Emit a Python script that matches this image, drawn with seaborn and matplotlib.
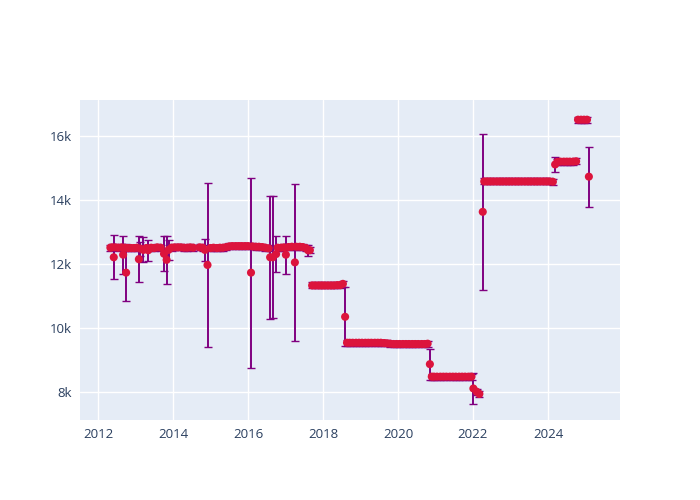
import matplotlib
matplotlib.use("Agg")
import matplotlib.pyplot as plt
import seaborn as sns
import pandas as pd
from matplotlib.ticker import FuncFormatter

# decimal-year dates, values and symmetric errors
dates = [
    2012.33, 2012.38, 2012.42, 2012.46, 2012.54, 2012.63, 2012.67, 2012.71, 2012.75, 2012.79,
    2012.88, 2012.96, 2013.04, 2013.09, 2013.13, 2013.21, 2013.29, 2013.34, 2013.42, 2013.50,
    2013.58, 2013.67, 2013.76, 2013.83, 2013.88, 2013.96, 2014.04, 2014.13, 2014.21, 2014.29,
    2014.38, 2014.46, 2014.54, 2014.71, 2014.79, 2014.85, 2014.92, 2015.00, 2015.08, 2015.17,
    2015.25, 2015.33, 2015.42, 2015.50, 2015.58, 2015.67, 2015.75, 2015.83, 2015.92, 2016.00,
    2016.08, 2016.12, 2016.21, 2016.29, 2016.38, 2016.46, 2016.55, 2016.59, 2016.66, 2016.75,
    2016.79, 2016.88, 2016.96, 2017.01, 2017.08, 2017.17, 2017.25, 2017.29, 2017.38, 2017.46,
    2017.54, 2017.60, 2017.65,
    2017.71, 2017.79, 2017.88, 2017.96, 2018.04, 2018.13, 2018.21, 2018.29, 2018.38, 2018.46,
    2018.53, 2018.59,
    2018.64, 2018.71, 2018.79, 2018.88, 2018.96, 2019.04, 2019.13, 2019.21, 2019.29, 2019.38,
    2019.46, 2019.54, 2019.63, 2019.71, 2019.79,
    2019.88, 2019.96, 2020.04, 2020.13, 2020.21, 2020.29, 2020.38, 2020.46, 2020.54, 2020.63,
    2020.71, 2020.79, 2020.85,
    2020.90, 2020.96, 2021.04, 2021.13, 2021.21, 2021.29, 2021.38, 2021.46, 2021.54, 2021.63,
    2021.71, 2021.79, 2021.88, 2021.96, 2022.01, 2022.10, 2022.17, 2022.26,
    2022.30, 2022.38, 2022.46, 2022.54, 2022.63, 2022.71, 2022.79, 2022.88, 2022.96, 2023.04,
    2023.13, 2023.21, 2023.29, 2023.38, 2023.46, 2023.54, 2023.63, 2023.71, 2023.79, 2023.88,
    2023.96, 2024.04, 2024.13, 2024.19,
    2024.25, 2024.33, 2024.42, 2024.50, 2024.58, 2024.67, 2024.75,
    2024.80, 2024.88, 2024.96, 2025.04, 2025.09,
]

values = [
    12510, 12520, 12210, 12520, 12510, 12520, 12290, 12510, 11730, 12500,
    12500, 12500, 12510, 12150, 12480, 12440, 12500, 12430, 12510, 12500,
    12520, 12510, 12320, 12130, 12440, 12510, 12520, 12520, 12520, 12510,
    12510, 12520, 12510, 12520, 12510, 12440, 11970, 12500, 12510, 12500,
    12510, 12510, 12530, 12550, 12560, 12560, 12560, 12560, 12560, 12560,
    11730, 12550, 12540, 12540, 12530, 12510, 12490, 12210, 12210, 12310,
    12510, 12510, 12520, 12290, 12530, 12540, 12050, 12540, 12540, 12530,
    12500, 12430, 12430,
    11330, 11330, 11330, 11330, 11330, 11330, 11330, 11330, 11340, 11340,
    11380, 10350,
    9540, 9540, 9540, 9540, 9540, 9540, 9540, 9540, 9540, 9540,
    9540, 9540, 9530, 9520, 9510,
    9500, 9500, 9500, 9500, 9500, 9500, 9500, 9500, 9500, 9500,
    9500, 9510, 8870,
    8480, 8480, 8480, 8480, 8480, 8480, 8480, 8480, 8480, 8480,
    8480, 8480, 8480, 8480, 8110, 8010, 7940, 13630,
    14580, 14580, 14580, 14580, 14580, 14580, 14580, 14580, 14580, 14580,
    14580, 14580, 14580, 14580, 14580, 14580, 14580, 14580, 14580, 14580,
    14580, 14580, 14570, 15110,
    15190, 15200, 15200, 15200, 15200, 15200, 15210,
    16510, 16510, 16510, 16510, 14730,
]

errors = [
    95, 95, 690, 95, 95, 95, 600, 95, 890, 95,
    95, 95, 95, 710, 220, 390, 95, 330, 95, 95,
    95, 95, 540, 740, 320, 95, 95, 95, 95, 95,
    95, 95, 95, 95, 95, 340, 2570, 95, 95, 95,
    95, 95, 95, 95, 95, 95, 95, 95, 95, 95,
    2970, 95, 95, 95, 95, 95, 95, 1920, 1900, 560,
    95, 95, 95, 590, 95, 95, 2450, 95, 95, 95,
    95, 170, 95,
    95, 95, 95, 95, 95, 95, 95, 95, 95, 95,
    95, 920,
    95, 95, 95, 95, 95, 95, 95, 95, 95, 95,
    95, 95, 95, 95, 95,
    95, 95, 95, 95, 95, 95, 95, 95, 95, 95,
    95, 95, 480,
    95, 95, 95, 95, 95, 95, 95, 95, 95, 95,
    95, 95, 95, 95, 470, 95, 95, 2440,
    95, 95, 95, 95, 95, 95, 95, 95, 95, 95,
    95, 95, 95, 95, 95, 95, 95, 95, 95, 95,
    95, 95, 95, 220,
    95, 95, 95, 95, 95, 95, 95,
    95, 95, 95, 95, 940,
]

x_ticks = [2012, 2014, 2016, 2018, 2020, 2022, 2024]
y_ticks = [8000, 10000, 12000, 14000, 16000]

df = pd.DataFrame({"date": dates, "value": values, "err": errors})

sns.set_theme(style="darkgrid", rc={
    "axes.facecolor": "#E5ECF6",
    "figure.facecolor": "white",
    "grid.color": "white",
    "grid.linewidth": 1.0,
    "axes.edgecolor": "#E5ECF6",
})
plt.rcParams["font.family"] = ["Open Sans", "DejaVu Sans"]

fig = plt.figure(figsize=(7, 5), dpi=100)
ax = fig.add_axes([80 / 700, 80 / 500, 540 / 700, 320 / 500])

ax.errorbar(df["date"], df["value"], yerr=df["err"], fmt="none",
            ecolor="#800080", elinewidth=1.4, capsize=3.0, capthick=1.0, zorder=2)
sns.scatterplot(data=df, x="date", y="value", ax=ax, color="#DC143C",
                s=34, edgecolor="none", linewidth=0, zorder=3, legend=False)

ax.set_xlim(2011.52, 2025.92)
ax.set_ylim(7125, 17125)
ax.set_xticks(x_ticks)
ax.set_yticks(y_ticks)
ax.yaxis.set_major_formatter(FuncFormatter(lambda v, p: f"{int(v/1000)}k"))
ax.set_xlabel("")
ax.set_ylabel("")
ax.tick_params(axis="both", colors="#2a3f5f", labelsize=9.5, length=0, pad=6)
for s in ax.spines.values():
    s.set_visible(False)
ax.grid(True, color="white", linewidth=1.0)
ax.set_axisbelow(True)

fig.savefig("out.png", dpi=100)
